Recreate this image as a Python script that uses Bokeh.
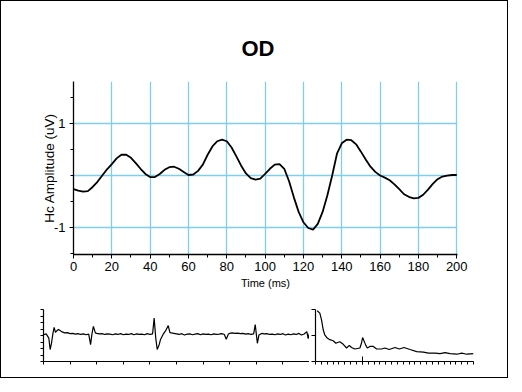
from bokeh.plotting import figure
from bokeh.layouts import column, row
from bokeh.models import Range1d, FixedTicker
from bokeh.embed import file_html
from bokeh.resources import INLINE

# ---- main averaged response (OD) ----
t_ms = [0, 2.5, 5, 7.5, 10, 12.5, 15, 17.5, 20, 22.5, 25, 27.5, 30, 32.5, 35, 37.5,
        40, 42.5, 45, 47.5, 50, 52.5, 55, 57.5, 60, 62.5, 65, 67.5, 70, 72.5, 75, 77.5,
        80, 82.5, 85, 87.5, 90, 92.5, 95, 97.5, 100, 102.5, 105, 107.5, 110, 112.5, 115,
        117.5, 120, 122.5, 125, 127.5, 130, 132.5, 135, 137.5, 140, 142.5, 145, 147.5,
        150, 152.5, 155, 157.5, 160, 162.5, 165, 167.5, 170, 172.5, 175, 177.5, 180,
        182.5, 185, 187.5, 190, 192.5, 195, 197.5, 200]
amp_uv = [-0.26, -0.29, -0.31, -0.30, -0.22, -0.12, 0.00, 0.12, 0.22, 0.33, 0.40, 0.40,
          0.34, 0.24, 0.13, 0.03, -0.03, -0.03, 0.03, 0.11, 0.16, 0.17, 0.13, 0.07, 0.01,
          0.02, 0.09, 0.21, 0.40, 0.56, 0.66, 0.69, 0.66, 0.54, 0.37, 0.19, 0.04, -0.05,
          -0.08, -0.06, 0.03, 0.13, 0.21, 0.22, 0.13, -0.11, -0.42, -0.70, -0.90, -1.01,
          -1.04, -0.93, -0.70, -0.38, 0.00, 0.42, 0.62, 0.69, 0.68, 0.60, 0.46, 0.31, 0.17,
          0.07, 0.00, -0.04, -0.09, -0.17, -0.26, -0.36, -0.41, -0.44, -0.43, -0.37, -0.27,
          -0.16, -0.07, -0.02, 0.00, 0.01, 0.01]
x_ticks = [0, 20, 40, 60, 80, 100, 120, 140, 160, 180, 200]
x_minor = [0, 10, 20, 30, 40, 50, 60, 70, 80, 90, 100, 110, 120, 130, 140, 150, 160, 170, 180, 190, 200]
y_ticks = [-1, 1]
y_tick_labels = {-1: "-1", 1: "1"}
y_grid = [-1, 0, 1]
y_minor = [-1.5, -0.5, 0, 0.5, 1.5]

# ---- raw sweep trace (bottom left) ----
raw_t = [0, 1, 2, 2.5, 3, 3.5, 4, 4.5, 5, 5.6, 6.5, 7, 8, 9, 10, 11, 12, 13, 14, 15, 16, 17,
         17.7, 18.2, 18.75, 19.5, 20, 21, 22, 23, 24, 25, 26, 27, 28, 29, 30, 31, 32, 33, 34,
         35, 36, 37, 38, 39, 40, 41, 41.6, 42.2, 42.75, 43.5, 44, 45, 46, 46.9, 47.5, 48, 49,
         50, 51, 52, 53, 54, 55, 56, 57, 58, 59, 60, 61, 62, 63, 64, 65, 66, 67, 68, 68.7,
         69.5, 70, 71, 72, 73, 74, 75, 76, 77, 78, 79, 79.6, 80.4, 81, 82, 83, 84, 85, 86, 87,
         88, 89, 90, 91, 92, 93, 94, 95, 96, 97, 98, 99, 99.5, 100]
raw_v = [0.03, 0.06, -0.10, -0.54, -0.30, 0.05, 0.31, 0.12, 0.18, 0.23, 0.17, 0.14, 0.10,
         0.11, 0.07, 0.08, 0.05, 0.07, 0.04, 0.06, 0.03, 0.05, -0.35, 0.05, 0.35, 0.10, 0.08,
         0.06, 0.07, 0.04, 0.06, 0.05, 0.03, 0.06, 0.04, 0.07, 0.03, 0.05, 0.04, 0.07, 0.03,
         0.06, 0.04, 0.05, 0.03, 0.07, 0.04, 0.06, 0.67, -0.10, -0.54, -0.35, -0.15, 0.05,
         0.20, 0.38, 0.12, 0.10, 0.08, 0.06, 0.04, 0.07, 0.02, 0.05, 0.06, 0.03, 0.05, 0.07,
         0.03, 0.06, 0.04, 0.05, 0.03, 0.06, 0.04, 0.05, 0.07, 0.04, -0.15, 0.06, 0.08, 0.10,
         0.08, 0.09, 0.07, 0.08, 0.05, 0.07, 0.04, 0.06, 0.42, -0.30, 0.02, 0.08, 0.06, 0.07,
         0.04, 0.05, 0.03, 0.06, 0.04, 0.07, 0.02, 0.05, 0.03, 0.06, 0.04, 0.08, 0.02, 0.06,
         0.15, -0.12, 0.10]
raw_x_ticks = [0, 10, 20, 30, 40, 50, 60, 70, 80, 90, 100]
raw_y_ticks = [-1, -0.75, -0.5, -0.25, 0, 0.25, 0.5, 0.75, 1]

# ---- spectrum (bottom right) ----
spec_f = [0.29, 0.74, 1.03, 1.32, 1.59, 2.0, 2.45, 3.03, 3.48, 3.89, 4.16, 4.74, 5.31, 5.77,
          6.16, 6.73, 7.59, 7.85, 8.05, 8.56, 8.85, 9.3, 9.88, 10.45, 11.3, 11.87, 12.6,
          13.58, 14.33, 15.12, 16.15, 17.3, 18.44, 19.3, 20.43, 21.28, 22.14, 23.0, 24.14,
          25.0, 25.86, 27.0]
spec_v = [0.975, 0.93, 0.80, 0.61, 0.51, 0.45, 0.42, 0.40, 0.35, 0.37, 0.38, 0.33, 0.26,
          0.31, 0.27, 0.24, 0.26, 0.35, 0.46, 0.32, 0.26, 0.29, 0.29, 0.24, 0.24, 0.26, 0.23,
          0.27, 0.24, 0.27, 0.23, 0.19, 0.18, 0.16, 0.16, 0.15, 0.17, 0.15, 0.14, 0.16, 0.14,
          0.15]
spec_major = [8]
spec_minor = list(range(0, 28))
spec_y_ticks = [0, 0.5, 1]

GRID = "#7ecfee"
FONT = "Liberation Sans"

# ---------- main plot ----------
p = figure(width=506, height=298, x_range=Range1d(0, 200.4), y_range=Range1d(-1.52, 1.81),
           output_backend="svg", toolbar_location=None,
           min_border_left=72, min_border_right=50, min_border_top=80, min_border_bottom=45)
p.outline_line_color = None
p.title.text = "OD"
p.title.align = "left"
p.title.offset = 168
p.title.text_font = FONT
p.title.text_font_size = "22px"
p.title.text_font_style = "bold"
p.title.text_color = "black"
p.title.standoff = 41

p.line(t_ms, amp_uv, line_color="black", line_width=1.8)

p.xaxis.ticker = FixedTicker(ticks=x_ticks, minor_ticks=x_minor)
p.yaxis.ticker = FixedTicker(ticks=y_ticks, minor_ticks=y_minor)
p.xgrid.ticker = FixedTicker(ticks=x_ticks)
p.ygrid.ticker = FixedTicker(ticks=y_grid)
p.grid.grid_line_color = GRID
p.grid.grid_line_width = 1.3
p.yaxis.major_label_overrides = y_tick_labels

for ax in (p.xaxis[0], p.yaxis[0]):
    ax.axis_line_color = "black"
    ax.axis_line_width = 1.3
    ax.major_tick_line_color = "black"
    ax.minor_tick_line_color = "black"
    ax.major_tick_in = 0
    ax.major_tick_out = 4
    ax.minor_tick_in = 0
    ax.minor_tick_out = 3
    ax.axis_label_text_font_style = "normal"
    ax.axis_label_text_color = "black"
    ax.major_label_text_color = "black"

p.xaxis.axis_label = "Time (ms)"
p.xaxis.axis_label_text_font = FONT
p.xaxis.axis_label_text_font_size = "11px"
p.xaxis.axis_label_standoff = 3
p.xaxis.major_label_text_font = FONT
p.xaxis.major_label_text_font_size = "13px"
p.xaxis.major_label_standoff = 3

p.yaxis.axis_label = "Hc Amplitude (uV)"
p.yaxis.axis_label_text_font = FONT
p.yaxis.axis_label_text_font_size = "13.5px"
p.yaxis.axis_label_standoff = -6
p.yaxis.major_label_text_font = FONT
p.yaxis.major_label_text_font_size = "13px"
p.yaxis.major_label_standoff = 4
p.yaxis.major_label_orientation = "horizontal"


def small_axes(f):
    f.outline_line_color = None
    f.grid.visible = False
    for ax in (f.xaxis[0], f.yaxis[0]):
        ax.axis_line_color = "black"
        ax.axis_line_width = 1.2
        ax.major_tick_line_color = "black"
        ax.minor_tick_line_color = "black"
        ax.major_label_text_font_size = "1px"
        ax.major_label_text_color = None
        ax.major_label_standoff = 0
        ax.major_tick_in = 0
        ax.major_tick_out = 3
        ax.minor_tick_in = 0
        ax.minor_tick_out = 0


# ---------- bottom-left raw trace ----------
q = figure(width=308, height=78, x_range=Range1d(0, 100), y_range=Range1d(-1, 1),
           output_backend="svg", toolbar_location=None,
           min_border_left=42, min_border_right=0, min_border_top=10, min_border_bottom=16)
small_axes(q)
q.xaxis.ticker = FixedTicker(ticks=raw_x_ticks, minor_ticks=[])
q.yaxis.ticker = FixedTicker(ticks=raw_y_ticks, minor_ticks=[])
q.line(raw_t, raw_v, line_color="black", line_width=1.2)

# ---------- bottom-right spectrum ----------
r = figure(width=198, height=78, x_range=Range1d(0, 27), y_range=Range1d(0, 1),
           output_backend="svg", toolbar_location=None,
           min_border_left=6, min_border_right=34, min_border_top=10, min_border_bottom=16)
small_axes(r)
r.xaxis.ticker = FixedTicker(ticks=spec_major, minor_ticks=spec_minor)
r.xaxis.major_tick_in = 5
r.xaxis.major_tick_out = 3
r.xaxis.minor_tick_out = 3
r.yaxis.ticker = FixedTicker(ticks=spec_y_ticks, minor_ticks=[])
r.yaxis.major_tick_out = 4
r.line(spec_f, spec_v, line_color="black", line_width=1.2)

layout = column(p, row(q, r), styles={"border": "1px solid black"})

open("out.html", "w").write(file_html(layout, INLINE))
